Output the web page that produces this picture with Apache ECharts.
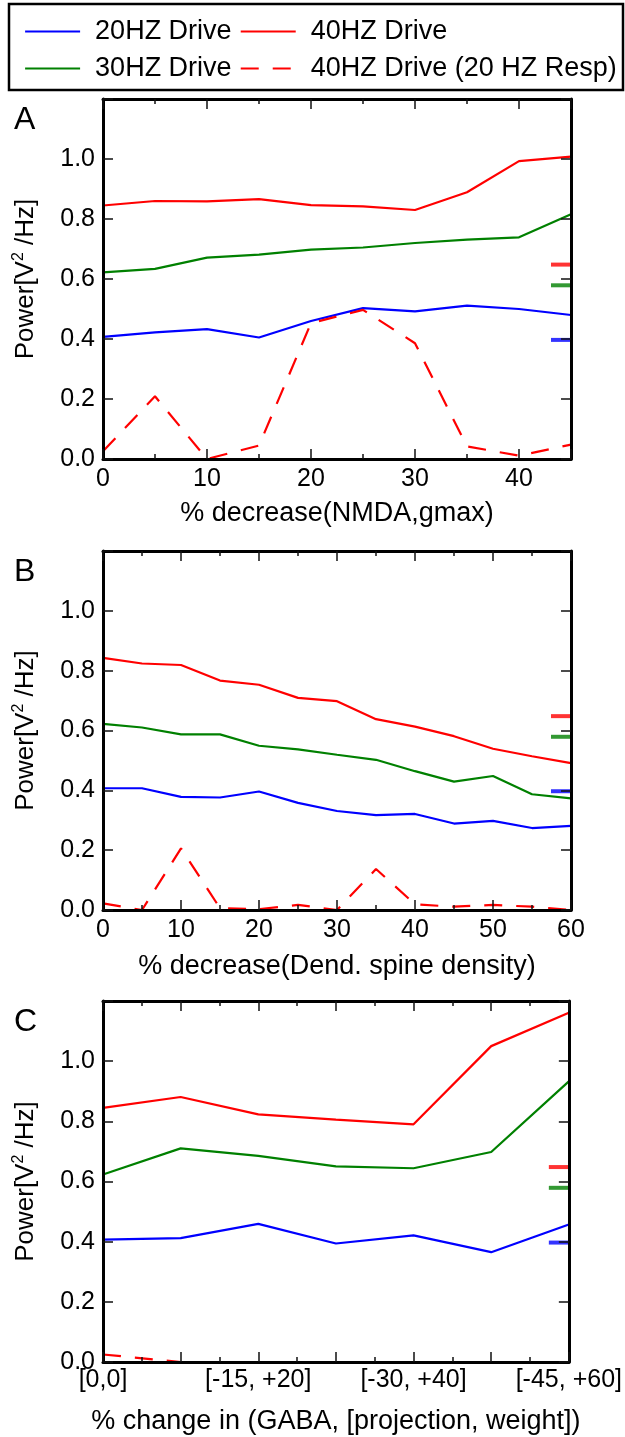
<!DOCTYPE html>
<html><head><meta charset="utf-8">
<script src="https://cdn.jsdelivr.net/npm/echarts@6/dist/echarts.min.js"></script>
<style>html,body{margin:0;padding:0;background:#fff}#c{width:625px;height:1437px}</style>
</head><body><div id="c"></div>
<script>
// ---------- data ----------
const seriesNames = ['20HZ Drive', '30HZ Drive', '40HZ Drive', '40HZ Drive (20 HZ Resp)'];
const panelLetters = ['A', 'B', 'C'];
const xTitles = ['% decrease(NMDA,gmax)', '% decrease(Dend. spine density)', '% change in (GABA, [projection, weight])'];
const yTitle = 'Power[V{sup|2} /Hz]';

const xA = [0, 5, 10, 15, 20, 25, 30, 35, 40, 45];
const a20 = [0.407, 0.422, 0.433, 0.405, 0.460, 0.503, 0.492, 0.511, 0.500, 0.480];
const a30 = [0.622, 0.634, 0.671, 0.681, 0.698, 0.705, 0.720, 0.731, 0.739, 0.816];
const a40 = [0.845, 0.860, 0.859, 0.866, 0.846, 0.842, 0.830, 0.889, 0.993, 1.008];
const a40r = [0.026, 0.209, 0.000, 0.045, 0.453, 0.497, 0.386, 0.042, 0.011, 0.048];

const xB = [0, 5, 10, 15, 20, 25, 30, 35, 40, 45, 50, 55, 60];
const b20 = [0.407, 0.407, 0.378, 0.376, 0.396, 0.358, 0.331, 0.317, 0.321, 0.289, 0.298, 0.274, 0.281];
const b30 = [0.622, 0.610, 0.587, 0.587, 0.549, 0.537, 0.519, 0.502, 0.464, 0.429, 0.448, 0.387, 0.373];
const b40 = [0.843, 0.824, 0.819, 0.767, 0.753, 0.709, 0.698, 0.638, 0.613, 0.581, 0.539, 0.514, 0.491];
const b40r = [0.022, 0.000, 0.206, 0.006, 0.003, 0.017, 0.000, 0.137, 0.019, 0.011, 0.017, 0.011, 0.000];

const xC = [0, 1, 2, 3, 4, 5, 6];
const cTickLabels = ['[0,0]', '', '[-15, +20]', '', '[-30, +40]', '', '[-45, +60]'];
const c20 = [0.407, 0.412, 0.459, 0.394, 0.421, 0.365, 0.457];
const c30 = [0.623, 0.710, 0.685, 0.650, 0.644, 0.698, 0.933];
const c40 = [0.845, 0.881, 0.823, 0.806, 0.790, 1.050, 1.161];
const c40r = [0.025, 0.000, 0.000, 0.000, 0.000, 0.000, 0.000];

// control reference levels (short marks at right edge): 20, 30, 40 Hz
const refLevels = [0.397, 0.579, 0.648];

// ---------- styling / layout ----------
const FONT = '"Liberation Sans", Arial, Helvetica, sans-serif';
const colors = ['#0000ff', '#008000', '#ff0000', '#ff0000'];
const grids = [
  {left: 103, right: 54, top: 99, height: 360},
  {left: 103, right: 54, top: 551, height: 359},
  {left: 103, right: 54, top: 1001, height: 361}
];
const xCfg = [
  {max: 45, major: 10, minor: 5, nameGap: 41, margin: 8, fmt: v => (v % 10 === 0 ? String(v) : '')},
  {max: 60, major: 10, minor: 5, nameGap: 43, margin: 8, fmt: v => (v % 10 === 0 ? String(v) : '')},
  {max: 6, major: 1, minor: 0.5, nameGap: 46, margin: 6, fmt: v => (Number.isInteger(v) ? cTickLabels[v] : '')}
];
const panelData = [
  [xA, [a20, a30, a40, a40r]],
  [xB, [b20, b30, b40, b40r]],
  [xC, [c20, c30, c40, c40r]]
];

const tickStyle = {color: '#111', width: 1.5};
const lineAxis = {show: true, onZero: false, lineStyle: {color: '#000', width: 3}};
const noLine = {show: false, onZero: false};
const labelStyle = {fontSize: 25, color: '#000', fontFamily: FONT};

const xAxis = [], yAxis = [], series = [], graphic = [];

grids.forEach((g, gi) => {
  const c = xCfg[gi];
  const base = {gridIndex: gi, type: 'value', min: 0, max: c.max, splitLine: {show: false}, z: 5};
  xAxis.push(Object.assign({}, base, {
    position: 'bottom', interval: c.major, axisLine: lineAxis,
    axisTick: {inside: true, length: 10, lineStyle: tickStyle},
    axisLabel: Object.assign({formatter: c.fmt, margin: c.margin}, labelStyle),
    name: xTitles[gi], nameLocation: 'middle', nameGap: c.nameGap,
    nameTextStyle: {fontSize: 27, color: '#000', fontFamily: FONT}
  }));
  xAxis.push(Object.assign({}, base, {
    position: 'bottom', interval: c.minor, axisLine: noLine,
    axisTick: {inside: true, length: 5, lineStyle: tickStyle}, axisLabel: {show: false}
  }));
  xAxis.push(Object.assign({}, base, {
    position: 'top', interval: c.major, axisLine: lineAxis,
    axisTick: {inside: true, length: 10, lineStyle: tickStyle}, axisLabel: {show: false}
  }));
  xAxis.push(Object.assign({}, base, {
    position: 'top', interval: c.minor, axisLine: noLine,
    axisTick: {inside: true, length: 5, lineStyle: tickStyle}, axisLabel: {show: false}
  }));
  const ybase = {gridIndex: gi, type: 'value', min: 0, max: 1.2, interval: 0.2, splitLine: {show: false}, z: 5};
  yAxis.push(Object.assign({}, ybase, {
    position: 'left', axisLine: lineAxis,
    axisTick: {inside: true, length: 10, lineStyle: tickStyle},
    axisLabel: Object.assign({formatter: v => (v > 1.1 ? '' : v.toFixed(1)), margin: 8}, labelStyle),
    name: yTitle, nameLocation: 'middle', nameGap: 62, nameRotate: 90,
    nameTextStyle: {fontSize: 26, color: '#000', fontFamily: FONT,
      rich: {sup: {fontSize: 16, color: '#000', fontFamily: FONT, padding: [0, 0, 14, 0]}}}
  }));
  yAxis.push(Object.assign({}, ybase, {
    position: 'right', axisLine: lineAxis,
    axisTick: {inside: true, length: 10, lineStyle: tickStyle}, axisLabel: {show: false}
  }));

  const [xs, vals] = panelData[gi];
  vals.forEach((arr, si) => {
    series.push({
      type: 'line', name: seriesNames[si], xAxisIndex: gi * 4, yAxisIndex: gi * 2,
      data: xs.map((x, i) => [x, arr[i]]), symbol: 'none', showSymbol: false,
      lineStyle: {color: colors[si], width: 2.2, type: si === 3 ? [18, 14] : 'solid'},
      itemStyle: {color: colors[si]}, z: 2, animation: false
    });
  });
  refLevels.forEach((v, ri) => {
    series.push({
      type: 'scatter', xAxisIndex: gi * 4, yAxisIndex: gi * 2, silent: true,
      data: [[c.max, v]], symbol: 'rect', symbolSize: [20, 4], symbolOffset: [-10, 0],
      itemStyle: {color: colors[ri]}, z: 3, animation: false
    });
  });

  graphic.push({
    type: 'text', left: 14, top: g.top + 5,
    style: {text: panelLetters[gi], font: '32px ' + FONT, fill: '#000'}
  });
});

graphic.push({
  type: 'rect', shape: {x: 9, y: 4, width: 614, height: 86},
  style: {fill: 'none', stroke: '#000', lineWidth: 2.5}, z: 10
});

const legendBase = {
  orient: 'horizontal', left: 19, itemWidth: 55, itemHeight: 14, itemGap: 8,
  selectedMode: false,
  itemStyle: {color: 'rgba(0,0,0,0)', borderWidth: 0, opacity: 0},
  lineStyle: {width: 2.2},
  textStyle: {fontSize: 27, color: '#000', fontFamily: FONT, padding: [0, 0, 0, 10]}
};

const option = {
  backgroundColor: '#fff',
  animation: false,
  grid: grids,
  xAxis, yAxis, series, graphic,
  legend: [
    Object.assign({}, legendBase, {top: 13, data: [seriesNames[0], seriesNames[2]]}),
    Object.assign({}, legendBase, {top: 50, data: [seriesNames[1], seriesNames[3]]})
  ]
};

const chart = echarts.init(document.getElementById('c'), null, {renderer: 'canvas'});
chart.setOption(option);
</script>
</body></html>
